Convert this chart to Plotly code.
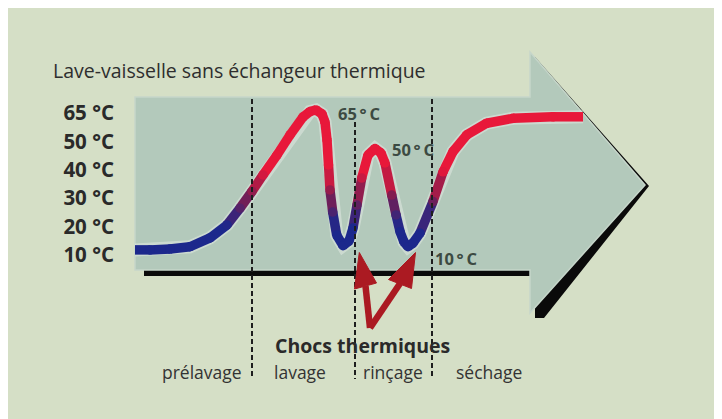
import numpy as np
import plotly.graph_objects as go

# ---------------- data ----------------
tick_temps = [10, 20, 30, 40, 50, 65]
tick_labels = ["10 °C", "20 °C", "30 °C", "40 °C", "50 °C", "65 °C"]
tick_levels = [0, 1, 2, 3, 4, 5]

# time (arbitrary units) and temperature (°C)
time = [0, 15, 35, 55, 75, 92, 105, 117, 128, 142, 155, 168, 175, 181, 187, 190,
        192, 193.5, 195, 197.7, 201.7, 208, 214, 218, 222, 226.7, 233, 240, 246,
        250, 256.7, 261, 265, 269, 273, 278, 285, 298, 308, 318, 331.7, 351.7,
        378, 418, 448]
temp_c = [11.8, 11.8, 12.1, 12.9, 16.0, 20.6, 26.5, 32.4, 38.2, 45.2, 53.4, 62.9,
          65.8, 66.6, 64.5, 60.2, 50.7, 41.7, 32.9, 25.1, 17.0, 13.3, 14.9, 19.5,
          27.6, 37.1, 45.2, 47.5, 45.9, 42.4, 31.1, 24.1, 18.2, 14.6, 12.9, 14.2,
          17.7, 28.8, 39.3, 46.4, 53.4, 59.6, 62.2, 63.0, 63.0]

phase_names = ["prélavage", "lavage", "rinçage", "séchage"]
phase_bounds = [117, 220, 297]
phase_label_t = [67, 165, 257.5, 353.5]

peak_labels = ["65\u2009°\u2009C", "50\u2009°\u2009C", "10\u2009°\u2009C"]

title_text = "Lave-vaisselle sans échangeur thermique"
shock_text = "Chocs thermiques"

# ---------------- helpers (layout geometry, screenshot pixels) ----------------
W, H = 714, 411          # figure size (page adds an 8px body margin)
OFF = 8
PX_PER_LEVEL = 28.4
X0_PX = 135
LEVEL0_PX = 255


def X(px):
    return px - X0_PX


def Y(py):
    return (LEVEL0_PX - py) / PX_PER_LEVEL


levels = np.interp(temp_c, tick_temps, tick_levels)
levels = np.array([
    (5 + (t - 65) / 15.0) if t > 65 else l for t, l in zip(temp_c, levels)
])

blue = np.array([28, 40, 140])
mid = np.array([118, 30, 84])
red = np.array([232, 24, 58])


def grad(lv):
    t = float(np.clip((lv - 1.0) / 2.0, 0, 1))
    if t < 0.5:
        c = blue + (mid - blue) * (t / 0.5)
    else:
        c = mid + (red - mid) * ((t - 0.5) / 0.5)
    return "rgb(%d,%d,%d)" % tuple(int(round(v)) for v in c)


fig = go.Figure()

fig.add_trace(go.Scatter(x=time, y=levels, mode="lines",
                         line=dict(color="rgba(235,240,235,0.45)", width=13),
                         hoverinfo="skip", showlegend=False))

for i in range(len(time) - 1):
    c = grad((levels[i] + levels[i + 1]) / 2)
    fig.add_trace(go.Scatter(x=[time[i], time[i + 1]], y=[levels[i], levels[i + 1]],
                             mode="lines", line=dict(color=c, width=9.5),
                             hoverinfo="skip", showlegend=False))
fig.add_trace(go.Scatter(x=time[1:-1], y=levels[1:-1], mode="markers",
                         marker=dict(size=9.5, color=[grad(l) for l in levels[1:-1]],
                                     line=dict(width=0)),
                         hoverinfo="skip", showlegend=False))

shapes = []


def poly(pts):
    return "M " + " L ".join("%.3f,%.4f" % (X(a), Y(b)) for a, b in pts) + " Z"


shadow = [(144, 102), (535, 102), (535, 57), (649, 186), (544, 318),
          (535, 318), (535, 276), (144, 276)]
shapes.append(dict(type="path", path=poly(shadow), fillcolor="#0a0a0a",
                   line=dict(width=0), layer="below"))
arrow = [(135, 97), (530, 97), (530, 52), (645, 185), (530, 313),
         (530, 270), (135, 270)]
shapes.append(dict(type="path", path=poly(arrow), fillcolor="#b3c9bb",
                   line=dict(color="#c6d6ca", width=1.5), layer="below"))

tops = [97, 120, 97]
for b, top in zip(phase_bounds, tops):
    shapes.append(dict(type="line", x0=b, x1=b, y0=Y(top + 2), y1=Y(379),
                       line=dict(color="#1e1e1e", width=2, dash="5px,3px"),
                       layer="above"))

red_c = "#ab1a22"
vertex = (370, 328)
for base_mid, tri in [((365.5, 286), [(359.3, 252.5), (354.5, 289), (376.5, 283)]),
                      ((400, 283.5), [(415.5, 252.5), (388.5, 279.5), (411.5, 288.5)])]:
    shapes.append(dict(type="path",
                       path="M %.3f,%.4f L %.3f,%.4f" % (X(vertex[0]), Y(vertex[1]),
                                                        X(base_mid[0]), Y(base_mid[1])),
                       line=dict(color=red_c, width=6.5), layer="above"))
    shapes.append(dict(type="path", path=poly(tri), fillcolor=red_c,
                       line=dict(color=red_c, width=1), layer="above"))

FONT = "Open Sans"
ann = []
ann.append(dict(x=X(51), y=Y(70), text=title_text, showarrow=False, xanchor="left",
                yanchor="middle", font=dict(family=FONT, size=19.5, color="#2e2e2e")))
for name, t in zip(phase_names, phase_label_t):
    ann.append(dict(x=t, y=Y(372), text=name, showarrow=False, xanchor="center",
                    yanchor="middle", font=dict(family=FONT, size=17.5, color="#333333")))
ann.append(dict(x=X(362), y=Y(345), text="<b>" + shock_text + "</b>", showarrow=False,
                xanchor="center", yanchor="middle",
                font=dict(family=FONT, size=19.5, color="#2a2a2a")))
for txt, (px, py) in zip(peak_labels, [(336, 113), (390, 149), (433, 258)]):
    ann.append(dict(x=X(px), y=Y(py), text="<b>" + txt + "</b>", showarrow=False,
                    xanchor="left", yanchor="middle",
                    font=dict(family=FONT, size=16.5, color="#3c4a42")))

fig.update_layout(
    width=W, height=H, margin=dict(l=0, r=0, t=0, b=0),
    paper_bgcolor="#d5dfc6", plot_bgcolor="rgba(0,0,0,0)",
    shapes=shapes, annotations=ann, showlegend=False,
    xaxis=dict(range=[X(OFF), X(OFF + W)], visible=False, fixedrange=True),
    yaxis=dict(range=[Y(OFF + H), Y(OFF)], anchor="free",
               position=(X0_PX - OFF) / W,
               tickvals=tick_levels, ticktext=["<b>%s</b>" % s for s in tick_labels],
               tickfont=dict(family=FONT, size=20.5, color="#2a2a2a"),
               showgrid=False, zeroline=False, showline=False,
               ticks="", ticklabelstandoff=21, fixedrange=True),
)

fig.write_html("out.html")
